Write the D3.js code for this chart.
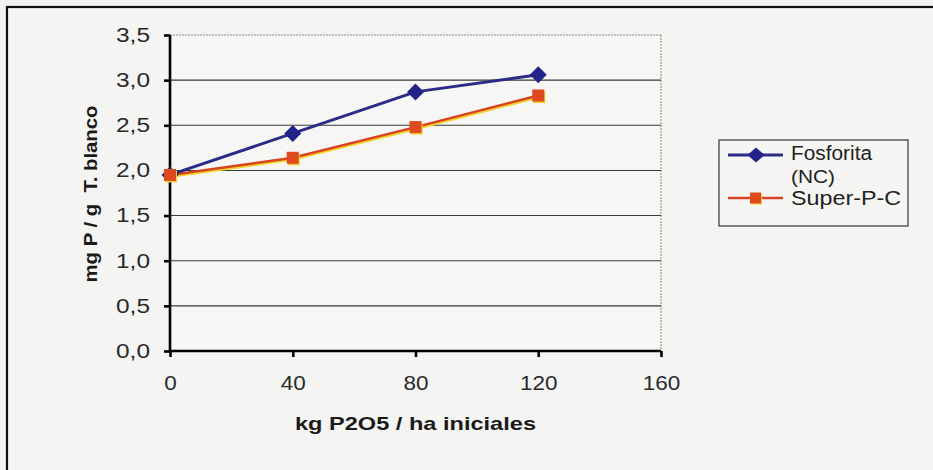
<!DOCTYPE html>
<html>
<head>
<meta charset="utf-8">
<script src="https://cdn.jsdelivr.net/npm/d3@7"></script>
<style>
  html, body { margin: 0; padding: 0; background: #f3f3f1; }
  svg { display: block; }
  text { font-family: Arial, "Liberation Sans", sans-serif; }
</style>
</head>
<body>
<svg id="chart" width="933" height="470"></svg>
<script>
// Dosis inicial de P2O5 (kg/ha)
const doses = [0, 40, 80, 120];
// mg P / g relativo al testigo blanco
const fosforita = [1.95, 2.41, 2.87, 3.06];
const superPC = [1.95, 2.14, 2.48, 2.83];
const seriesNames = ["Fosforita (NC)", "Super-P-C"];
const xTicks = [0, 40, 80, 120, 160];
const yTicks = [0, 0.5, 1.0, 1.5, 2.0, 2.5, 3.0, 3.5];
const xTitle = "kg P2O5 / ha iniciales";
const yTitle = "mg P / g  T. blanco";

const svg = d3.select("#chart");
const W = 933, H = 470;

// background and outer frame
svg.append("rect").attr("x", 0).attr("y", 0).attr("width", W).attr("height", H).attr("fill", "#f3f3f1");
svg.append("rect").attr("x", 7).attr("y", 7).attr("width", W + 20).attr("height", H + 20)
  .attr("fill", "#f4f4f2").attr("stroke", "#111").attr("stroke-width", 2.2);

const plot = { left: 170, right: 661, top: 35, bottom: 351 };
const x = d3.scaleLinear().domain([0, 160]).range([plot.left, plot.right]);
const y = d3.scaleLinear().domain([0, 3.5]).range([plot.bottom, plot.top]);

// plot area
svg.append("rect").attr("x", plot.left).attr("y", plot.top)
  .attr("width", plot.right - plot.left).attr("height", plot.bottom - plot.top)
  .attr("fill", "#f6f6f4");

// dotted plot border (top, right)
svg.append("line").attr("x1", plot.left).attr("x2", plot.right).attr("y1", y(3.5)).attr("y2", y(3.5))
  .attr("stroke", "#8a8a8a").attr("stroke-width", 1.2).attr("stroke-dasharray", "2,1");
svg.append("line").attr("x1", plot.right).attr("x2", plot.right).attr("y1", plot.top).attr("y2", plot.bottom)
  .attr("stroke", "#9a9a80").attr("stroke-width", 1.2).attr("stroke-dasharray", "2,1");

// horizontal gridlines
svg.append("g").selectAll("line").data(yTicks.filter(d => d > 0 && d < 3.5)).join("line")
  .attr("x1", plot.left).attr("x2", plot.right)
  .attr("y1", d => y(d)).attr("y2", d => y(d))
  .attr("stroke", "#3a3a3a").attr("stroke-width", 1.1);

const fmt = d => d3.format(".1f")(d).replace(".", ",");

// axes
const yAxis = svg.append("g").attr("transform", `translate(${plot.left},0)`)
  .call(d3.axisLeft(y).tickValues(yTicks).tickFormat(fmt).tickSize(6).tickPadding(14));
const xAxis = svg.append("g").attr("transform", `translate(0,${plot.bottom})`)
  .call(d3.axisBottom(x).tickValues(xTicks).tickFormat(d3.format("d")).tickSize(6).tickPadding(19));

[yAxis, xAxis].forEach(g => {
  g.attr("font-size", 20).attr("font-family", "Arial, 'Liberation Sans', sans-serif");
  g.select(".domain").attr("stroke", "#000").attr("stroke-width", 2.6);
  g.selectAll(".tick line").attr("stroke", "#000").attr("stroke-width", 2.6);
  g.selectAll(".tick text").attr("fill", "#2a2a2a");
});
yAxis.selectAll(".tick text").attr("textLength", 34).attr("lengthAdjust", "spacingAndGlyphs");
xAxis.selectAll(".tick text").attr("textLength", d => String(d).length * 12.5).attr("lengthAdjust", "spacingAndGlyphs");
xAxis.select(".domain").attr("d", `M${plot.left},0H${plot.right}`);
yAxis.select(".domain").attr("d", `M0,${plot.bottom}V${plot.top}`);

// axis titles
svg.append("text").attr("x", (plot.left + plot.right) / 2).attr("y", 430)
  .attr("text-anchor", "middle").attr("font-weight", "bold").attr("font-size", 19)
  .attr("textLength", 241).attr("lengthAdjust", "spacingAndGlyphs")
  .attr("fill", "#1a1a1a").text(xTitle);
svg.append("text").attr("transform", `translate(97,194) rotate(-90)`)
  .attr("text-anchor", "middle").attr("font-weight", "bold").attr("font-size", 19)
  .attr("textLength", 177).attr("lengthAdjust", "spacingAndGlyphs")
  .attr("fill", "#1a1a1a").attr("xml:space", "preserve").style("white-space", "pre").text(yTitle);

const line = d3.line().x((d, i) => x(doses[i])).y(d => y(d));
// rhombus marker centred on the point
const rhombus = (hw, hh) => `M0,${-hh}L${hw},0L0,${hh}L${-hw},0Z`;

// Super-P-C: red line with yellow offset edge
svg.append("path").datum(superPC).attr("d", line).attr("fill", "none")
  .attr("stroke", "#f2d22a").attr("stroke-width", 2.5).attr("transform", "translate(0.8,1.6)");
svg.append("path").datum(superPC).attr("d", line).attr("fill", "none")
  .attr("stroke", "#d84320").attr("stroke-width", 2.5);

// Fosforita line
svg.append("path").datum(fosforita).attr("d", line).attr("fill", "none")
  .attr("stroke", "#2c2c86").attr("stroke-width", 3);

// Fosforita diamonds
svg.append("g").selectAll("path").data(fosforita).join("path")
  .attr("transform", (d, i) => `translate(${x(doses[i])},${y(d)})`)
  .attr("d", rhombus(8.5, 8.5))
  .attr("fill", "#23238a");

// Super-P-C squares
const sq = 12;
const sqG = svg.append("g").selectAll("g").data(superPC).join("g")
  .attr("transform", (d, i) => `translate(${x(doses[i])},${y(d)})`);
sqG.append("rect").attr("x", -sq / 2 + 1).attr("y", -sq / 2 + 1.5).attr("width", sq).attr("height", sq).attr("fill", "#f0d030");
sqG.append("rect").attr("x", -sq / 2).attr("y", -sq / 2).attr("width", sq).attr("height", sq).attr("fill", "#de4a1e");

// legend
const lg = svg.append("g");
lg.append("rect").attr("x", 719).attr("y", 140).attr("width", 189).attr("height", 86)
  .attr("fill", "#f5f5f3").attr("stroke", "#333").attr("stroke-width", 1.2);
// entry 1
lg.append("line").attr("x1", 728).attr("x2", 783).attr("y1", 155).attr("y2", 155)
  .attr("stroke", "#2c2c86").attr("stroke-width", 3);
lg.append("path").attr("transform", "translate(756,155)")
  .attr("d", rhombus(8.5, 7.5)).attr("fill", "#23238a");
const nameParts = seriesNames[0].split(" ");
lg.append("text").attr("x", 791).attr("y", 160).attr("font-size", 20).attr("fill", "#222")
  .attr("textLength", 81).attr("lengthAdjust", "spacingAndGlyphs").text(nameParts[0]);
lg.append("text").attr("x", 791).attr("y", 183).attr("font-size", 19).attr("fill", "#222")
  .attr("textLength", 44).attr("lengthAdjust", "spacingAndGlyphs").text(nameParts[1]);
// entry 2
lg.append("line").attr("x1", 728).attr("x2", 783).attr("y1", 198).attr("y2", 198)
  .attr("stroke", "#d84320").attr("stroke-width", 2.5);
lg.append("rect").attr("x", 751).attr("y", 193.5).attr("width", 11).attr("height", 11).attr("fill", "#f0d030");
lg.append("rect").attr("x", 750).attr("y", 192.5).attr("width", 11).attr("height", 11).attr("fill", "#de4a1e");
lg.append("text").attr("x", 791).attr("y", 205).attr("font-size", 20).attr("fill", "#222")
  .attr("textLength", 110).attr("lengthAdjust", "spacingAndGlyphs").text(seriesNames[1]);
</script>
</body>
</html>
